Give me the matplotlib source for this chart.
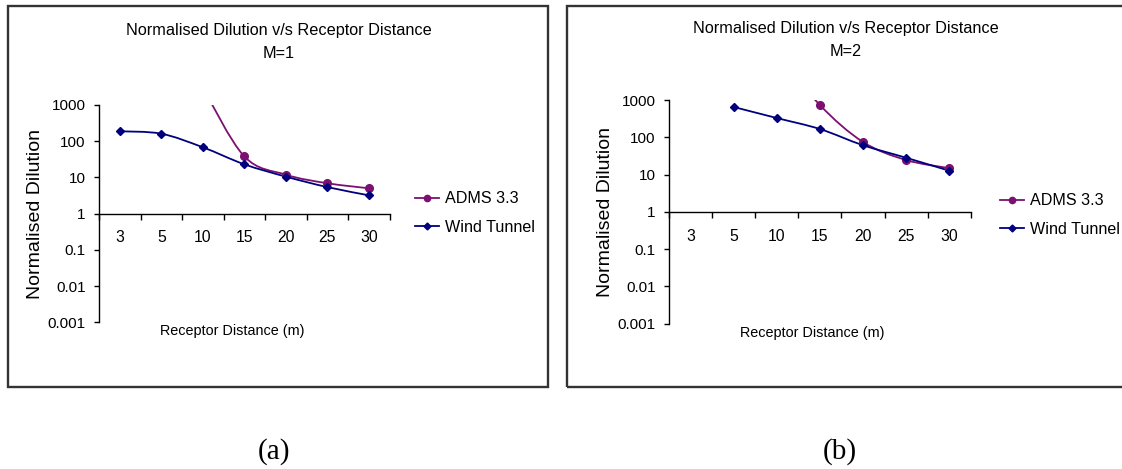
import matplotlib
matplotlib.use('Agg')
import matplotlib.pyplot as plt
from matplotlib.path import Path
from matplotlib.patches import PathPatch, Rectangle
from matplotlib.lines import Line2D
from matplotlib.ticker import NullLocator
from matplotlib import font_manager
import numpy as np

# category axis and y ticks
distances = ['3', '5', '10', '15', '20', '25', '30']
y_ticks = [0.001, 0.01, 0.1, 1, 10, 100, 1000]
y_tick_labels = ['0.001', '0.01', '0.1', '1', '10', '100', '1000']

# (a) M=1  -- None = no value at that distance
m1_adms = [None, None, 3000, 38, 11.9, 6.9, 5.0]
m1_wind = [188, 161, 68, 23, 10.5, 5.4, 3.2]

# (b) M=2
m2_adms = [None, None, 20000, 748, 76, 24.8, 15]
m2_wind = [None, 661, 334, 169, 62, 28.6, 12.8]

ADMS_COLOR = '#7B1070'
WIND_COLOR = '#00007F'
W, H = 1122, 469

# excel-ish charts use a condensed arial look, narrow font if we have it
names = {f.name for f in font_manager.fontManager.ttflist}
if 'Liberation Sans Narrow' in names:
    NARROW, fs = 'Liberation Sans Narrow', 1.15
else:
    NARROW, fs = 'Liberation Sans', 1.0

TITLE_FS = 11.7 * fs
TICK_FS = 11.0 * fs
CAT_FS = 11.3 * fs
XLABEL_FS = 10.4 * fs
LEGEND_FS = 11.6 * fs


def fx(px):
    return px / W


def fy(py):
    return 1 - py / H


def smooth_path(values):
    """Excel style smoothed line: bezier segments through the points (log space)."""
    pts = np.array([(i + 0.5, np.log10(v)) for i, v in enumerate(values) if v is not None])
    n = len(pts)
    verts = [pts[0]]
    codes = [Path.MOVETO]
    for i in range(n - 1):
        p0 = pts[max(i - 1, 0)]
        p1 = pts[i]
        p2 = pts[i + 1]
        p3 = pts[min(i + 2, n - 1)]
        verts += [p1 + (p2 - p0) / 6, p2 - (p3 - p1) / 6, p2]
        codes += [Path.CURVE4] * 3
    verts = np.array(verts)
    verts[:, 1] = 10 ** verts[:, 1]
    return Path(verts, codes)


def draw_panel(ax, adms, wind):
    ax.set_yscale('log')
    ax.patch.set_visible(False)

    for vals, color, marker, ms in [(adms, ADMS_COLOR, 'o', 5.5), (wind, WIND_COLOR, 'D', 4.5)]:
        ax.add_patch(PathPatch(smooth_path(vals), fill=False, edgecolor=color, lw=1.3))
        xs = [i + 0.5 for i, v in enumerate(vals) if v is not None]
        ys = [v for v in vals if v is not None]
        ax.plot(xs, ys, linestyle='none', marker=marker, ms=ms, color=color)

    ax.set_xlim(0, 7)
    ax.set_ylim(1e-3, 1e3)

    for s in ['top', 'right']:
        ax.spines[s].set_visible(False)
    ax.spines['bottom'].set_position(('data', 1))
    ax.spines['left'].set_linewidth(1.0)
    ax.spines['bottom'].set_linewidth(1.0)

    ax.set_xticks(range(8))
    ax.set_xticklabels([])
    ax.set_xticks(np.arange(7) + 0.5, minor=True)
    ax.set_xticklabels(distances, minor=True, family=NARROW, fontsize=CAT_FS)
    ax.tick_params(axis='x', which='major', direction='out', length=4.5, width=1.0)
    ax.tick_params(axis='x', which='minor', length=0, pad=12)

    ax.set_yticks(y_ticks)
    ax.set_yticklabels(y_tick_labels, family=NARROW, fontsize=TICK_FS)
    ax.yaxis.set_minor_locator(NullLocator())
    ax.tick_params(axis='y', direction='out', length=3.5, width=1.0, pad=6)


fig = plt.figure(figsize=(W / 100, H / 100), dpi=100)

# chart frames
fig.add_artist(Rectangle((fx(8), fy(387)), fx(548 - 8), (387 - 6) / H, transform=fig.transFigure,
                         fill=False, lw=1.7, edgecolor='#333333'))
fig.add_artist(Rectangle((fx(567), fy(387)), fx(1135 - 567), (387 - 6) / H, transform=fig.transFigure,
                         fill=False, lw=1.7, edgecolor='#333333'))

panels = [
    # adms, wind, axes box (px), title x, title y, ylabel x, xlabel (x, y), legend (x, y), caption
    (m1_adms, m1_wind, (99, 105, 389.6, 322.2), 279, 30, 36, (232, 331), (415, 213), (274, 452), 'M=1', '(a)'),
    (m2_adms, m2_wind, (669, 100.3, 970.7, 323.5), 846, 28, 606, (812, 333), (1000, 215), (840, 452), 'M=2', '(b)'),
]

for adms, wind, box, tx, ty, ylx, xl, lg, cap, mlabel, caption in panels:
    x0, y0, x1, y1 = box
    ax = fig.add_axes([fx(x0), fy(y1), fx(x1 - x0), (y1 - y0) / H])
    draw_panel(ax, adms, wind)

    fig.text(fx(tx), fy(ty), 'Normalised Dilution v/s Receptor Distance', ha='center', va='center',
             family=NARROW, fontsize=TITLE_FS)
    fig.text(fx(tx), fy(ty + 23), mlabel, ha='center', va='center', family=NARROW, fontsize=TITLE_FS)
    fig.text(fx(ylx), fy((y0 + y1) / 2), 'Normalised Dilution', rotation=90, ha='center', va='center',
             family='Liberation Sans', fontsize=14)
    fig.text(fx(xl[0]), fy(xl[1]), 'Receptor Distance (m)', ha='center', va='center',
             family=NARROW, fontsize=XLABEL_FS)

    handles = [
        Line2D([], [], color=ADMS_COLOR, lw=1.3, marker='o', ms=4.5, label='ADMS 3.3'),
        Line2D([], [], color=WIND_COLOR, lw=1.3, marker='D', ms=3.5, label='Wind Tunnel'),
    ]
    fig.legend(handles=handles, loc='center left', bbox_to_anchor=(fx(lg[0]), fy(lg[1])),
               frameon=False, borderpad=0, borderaxespad=0, handlelength=1.5, handletextpad=0.35,
               labelspacing=0.85, prop={'family': NARROW, 'size': LEGEND_FS})

    fig.text(fx(cap[0]), fy(cap[1]), caption, ha='center', va='center', family='Liberation Serif',
             fontsize=21)

fig.savefig('out.png', dpi=100)
